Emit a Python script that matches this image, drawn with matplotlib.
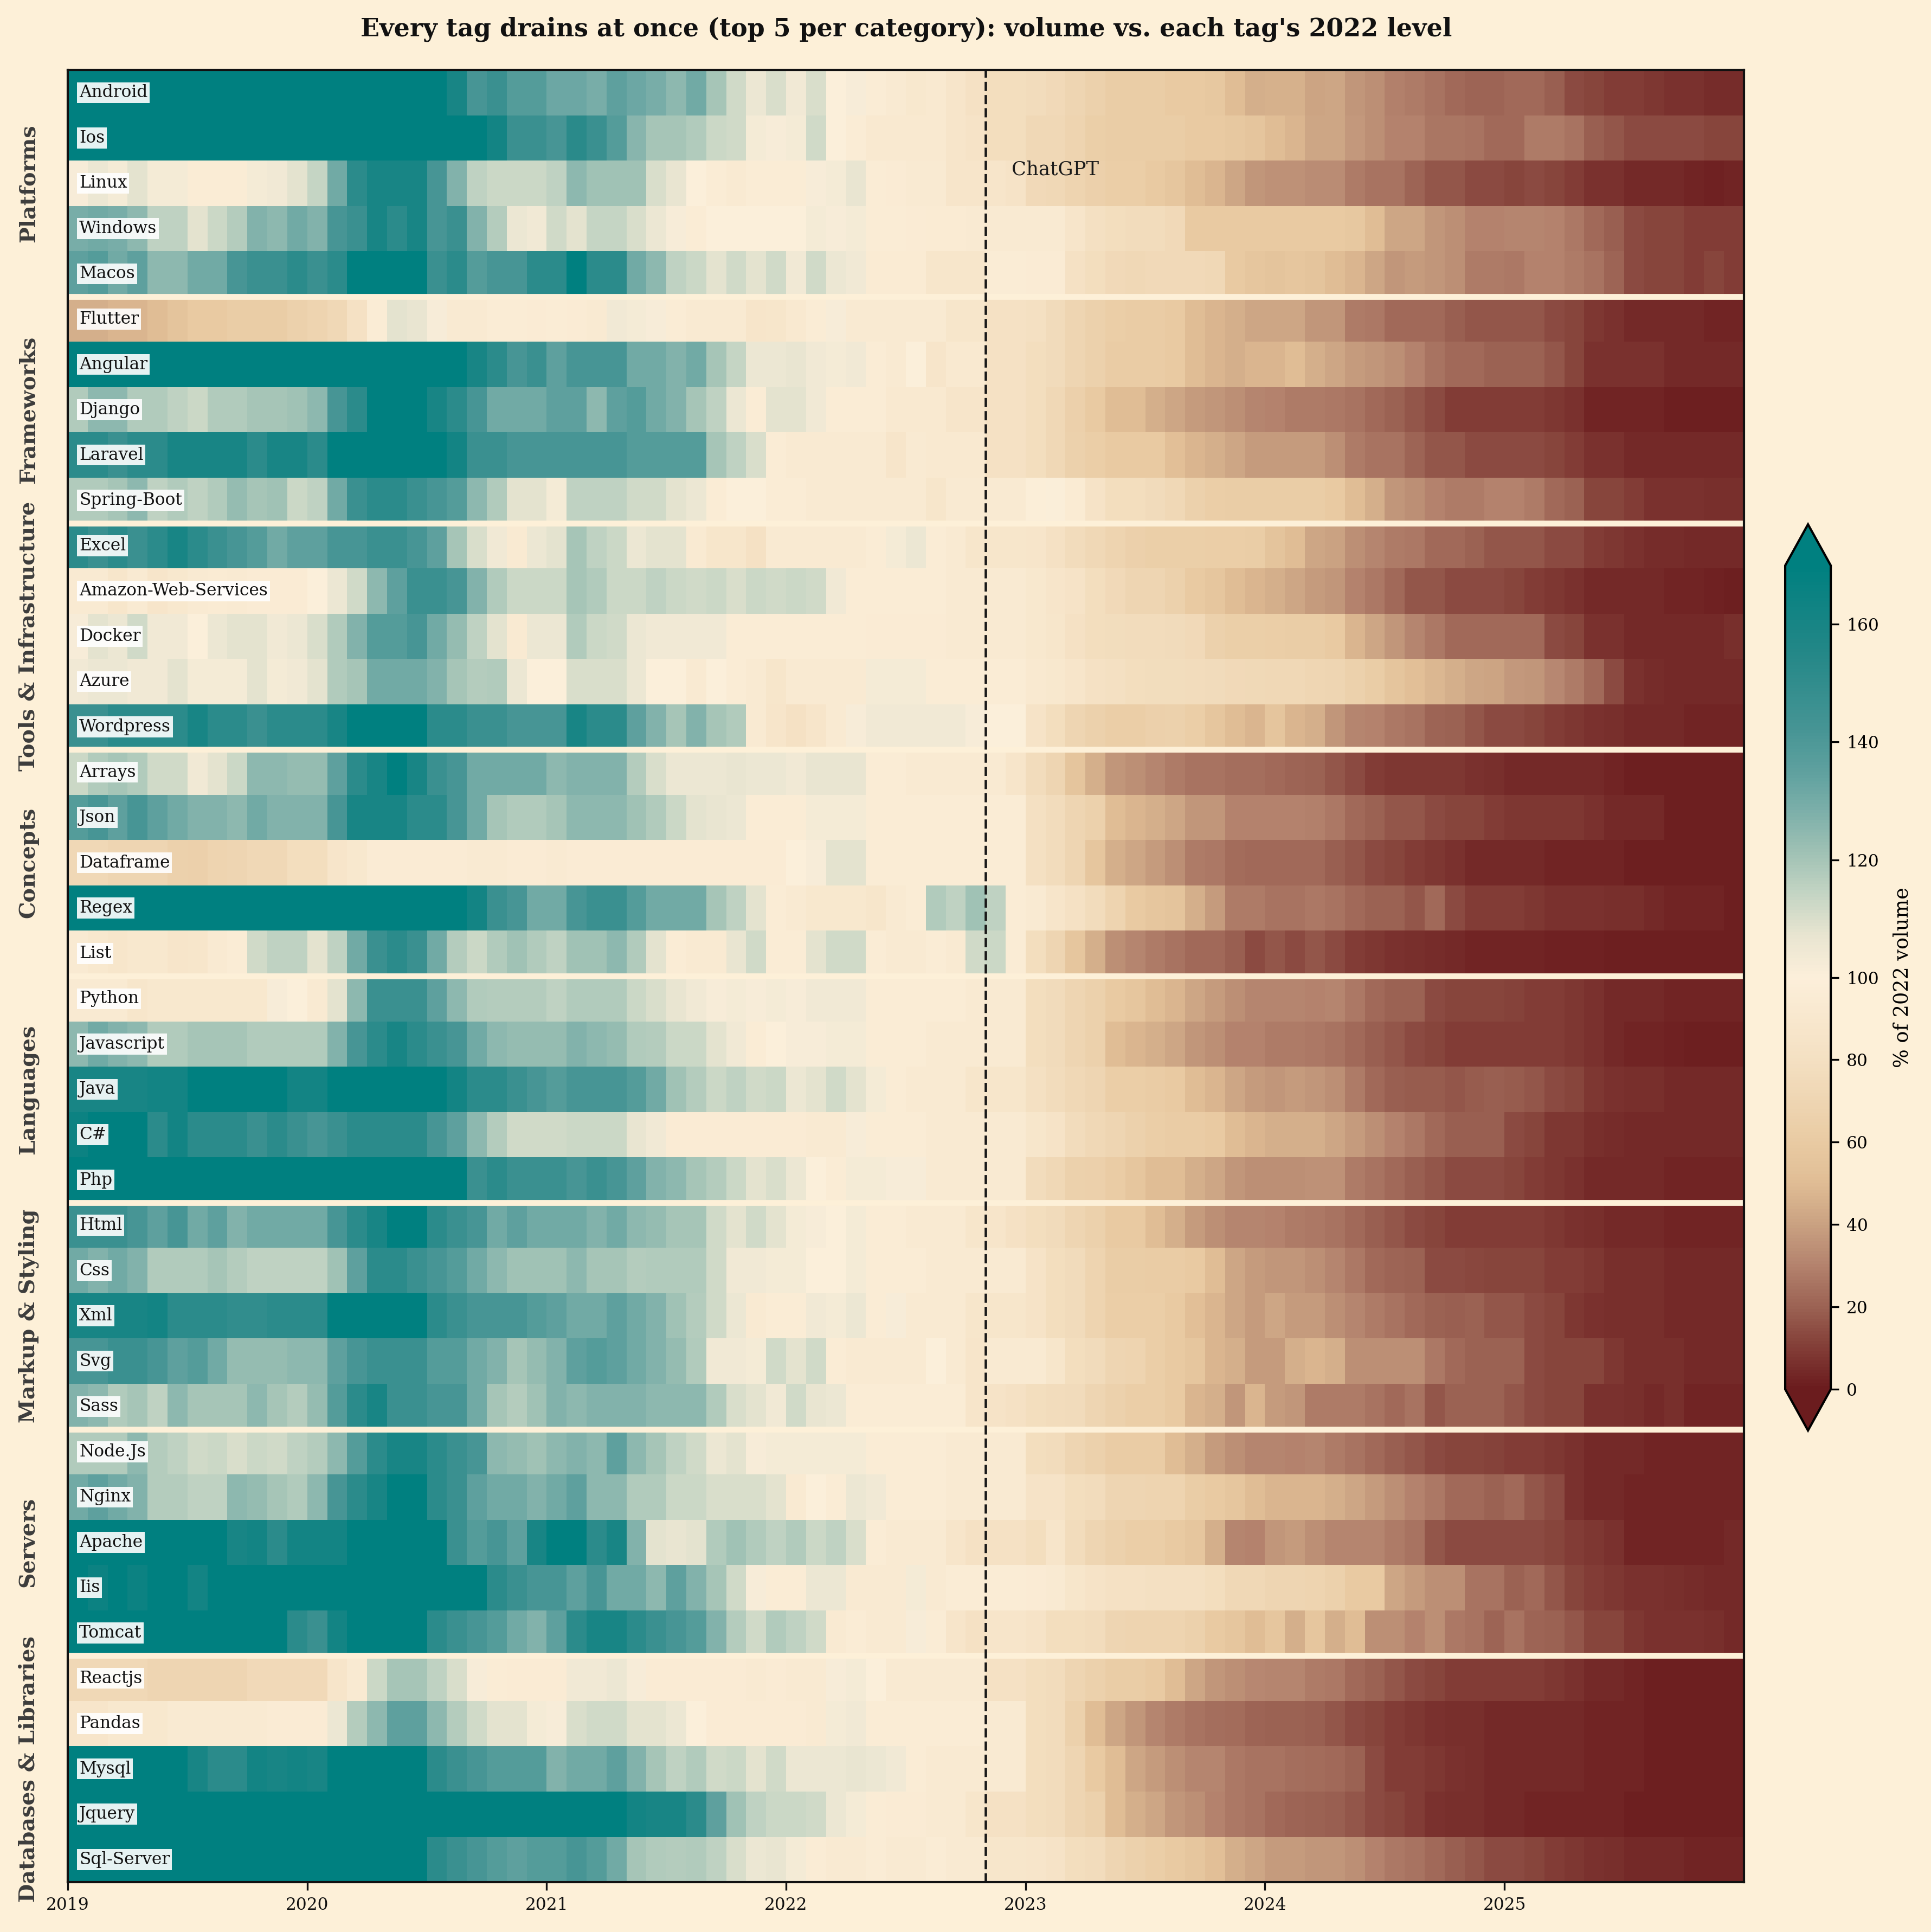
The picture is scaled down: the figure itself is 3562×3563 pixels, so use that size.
import matplotlib
matplotlib.use('Agg')
import matplotlib.pyplot as plt
import numpy as np
from matplotlib.colors import LinearSegmentedColormap, TwoSlopeNorm
from matplotlib import transforms

plt.rcParams['font.family'] = 'DejaVu Serif'

BG = '#fdf0d8'

# ========================
# DATA: % of each tag's 2022 volume, monthly Jan 2019 .. Dec 2025 (84 months)
# ========================
years = [2019, 2020, 2021, 2022, 2023, 2024, 2025]
chatgpt_month = 46  # Nov 2022

categories = ['Platforms', 'Frameworks', 'Tools & Infrastructure', 'Concepts',
              'Languages', 'Markup & Styling', 'Servers', 'Databases & Libraries']

platforms_tags = ['Android', 'Ios', 'Linux', 'Windows', 'Macos']
platforms_vals = [
    [180, 180, 180, 180, 180, 180, 180, 180, 180, 180, 180, 180, 180, 180, 180, 180, 180, 180, 180, 160, 142, 147, 138, 138, 132, 132, 129, 135, 132, 129, 125, 131, 120, 112, 106, 110, 104, 110, 100, 102, 96, 93, 90, 92, 86, 82, 78, 78,
     76, 74, 70, 66, 62, 62, 62, 60, 60, 58, 50, 45, 46, 46, 41, 42, 36, 34, 29, 28, 25, 22, 21, 21, 22, 22, 19, 14, 12, 10, 10, 8, 7, 7, 5, 5],
    [180, 180, 180, 180, 180, 180, 180, 180, 180, 180, 180, 180, 180, 180, 180, 180, 180, 180, 180, 180, 172, 162, 147, 147, 142, 153, 147, 138, 126, 120, 120, 118, 113, 112, 103, 102, 103, 112, 100, 96, 92, 92, 92, 92, 86, 84, 78, 78,
     72, 72, 68, 64, 62, 62, 62, 62, 60, 60, 58, 56, 50, 47, 42, 42, 37, 34, 30, 30, 26, 26, 25, 22, 22, 28, 28, 25, 19, 17, 14, 14, 14, 14, 12, 12],
    [102, 106, 103, 108, 103, 103, 96, 96, 96, 103, 104, 108, 114, 131, 152, 160, 160, 160, 142, 127, 115, 113, 113, 113, 115, 125, 121, 121, 121, 110, 107, 100, 96, 93, 96, 96, 96, 102, 103, 107, 96, 95, 93, 93, 86, 86, 86, 84,
     74, 72, 68, 65, 63, 63, 60, 57, 50, 47, 42, 36, 35, 35, 33, 33, 28, 25, 25, 21, 17, 17, 14, 14, 12, 14, 12, 10, 7, 7, 4, 4, 4, 3, 2, 3],
    [129, 131, 129, 125, 115, 115, 108, 113, 117, 127, 125, 131, 127, 142, 147, 160, 152, 160, 142, 147, 127, 117, 106, 104, 112, 108, 114, 114, 110, 106, 102, 96, 100, 100, 100, 100, 100, 103, 102, 103, 96, 96, 95, 94, 94, 93, 93, 93,
     93, 93, 86, 80, 78, 76, 76, 74, 60, 60, 60, 60, 60, 60, 60, 60, 58, 50, 42, 42, 36, 34, 30, 30, 31, 31, 30, 27, 22, 19, 14, 12, 12, 10, 10, 10],
    [135, 138, 131, 135, 125, 125, 131, 131, 142, 147, 147, 152, 147, 152, 180, 180, 180, 180, 147, 152, 138, 142, 142, 152, 152, 172, 152, 152, 131, 125, 115, 113, 108, 112, 108, 112, 104, 112, 106, 104, 94, 94, 94, 88, 88, 88, 96, 96,
     95, 95, 82, 78, 74, 72, 74, 74, 74, 72, 60, 57, 55, 57, 55, 50, 47, 42, 36, 38, 36, 34, 28, 28, 27, 30, 30, 28, 25, 21, 14, 12, 12, 10, 12, 10],
]

frameworks_tags = ['Flutter', 'Angular', 'Django', 'Laravel', 'Spring-Boot']
frameworks_vals = [
    [45, 45, 47, 47, 50, 55, 60, 60, 62, 62, 62, 66, 68, 72, 82, 96, 108, 107, 102, 93, 93, 96, 96, 95, 96, 95, 93, 104, 103, 102, 96, 93, 93, 93, 86, 88, 92, 96, 102, 93, 93, 93, 93, 93, 88, 88, 82, 82,
     80, 75, 70, 66, 63, 61, 61, 60, 50, 47, 45, 42, 42, 42, 36, 36, 28, 27, 22, 22, 22, 19, 17, 17, 17, 17, 14, 12, 8, 7, 4, 4, 4, 4, 3, 3],
    [180, 180, 180, 180, 180, 180, 180, 180, 180, 180, 180, 180, 180, 180, 180, 180, 180, 180, 180, 180, 160, 152, 142, 147, 135, 142, 142, 142, 131, 131, 127, 131, 120, 114, 106, 106, 107, 104, 103, 104, 96, 93, 100, 86, 92, 92, 82, 82,
     78, 75, 70, 66, 61, 61, 61, 60, 50, 47, 45, 47, 47, 50, 45, 42, 38, 36, 34, 30, 25, 22, 22, 20, 20, 20, 17, 12, 7, 7, 7, 7, 4, 4, 4, 4],
    [118, 125, 125, 118, 118, 115, 113, 118, 118, 120, 120, 121, 125, 142, 152, 172, 180, 180, 160, 152, 142, 131, 131, 131, 135, 135, 125, 135, 138, 131, 127, 120, 115, 106, 96, 108, 108, 104, 96, 96, 96, 92, 92, 92, 86, 86, 82, 82,
     78, 72, 65, 60, 50, 50, 45, 42, 38, 36, 34, 31, 30, 28, 28, 27, 25, 22, 20, 17, 14, 10, 10, 10, 10, 10, 8, 7, 3, 3, 3, 3, 1, 1, 1, 1],
    [152, 152, 147, 152, 152, 160, 160, 160, 160, 152, 160, 160, 152, 172, 180, 180, 180, 180, 180, 162, 147, 147, 142, 142, 142, 142, 142, 142, 138, 138, 138, 138, 120, 115, 110, 96, 93, 93, 93, 93, 93, 86, 93, 92, 92, 92, 82, 82,
     78, 72, 66, 63, 60, 60, 60, 52, 47, 45, 42, 38, 38, 38, 38, 34, 28, 25, 25, 21, 17, 17, 14, 14, 14, 14, 12, 10, 7, 7, 4, 4, 4, 4, 4, 4],
    [118, 118, 120, 125, 115, 118, 115, 118, 123, 120, 121, 113, 115, 131, 147, 152, 152, 147, 142, 138, 125, 118, 108, 108, 103, 115, 115, 115, 112, 112, 108, 106, 96, 100, 100, 96, 96, 93, 93, 93, 93, 93, 93, 88, 93, 93, 93, 93,
     98, 101, 94, 84, 78, 78, 75, 72, 66, 63, 62, 62, 62, 62, 62, 60, 50, 45, 36, 34, 30, 28, 28, 30, 30, 28, 22, 20, 12, 12, 10, 7, 7, 7, 6, 6],
]

tools_tags = ['Excel', 'Amazon-Web-Services', 'Docker', 'Azure', 'Wordpress']
tools_vals = [
    [152, 147, 152, 147, 152, 160, 152, 147, 142, 138, 131, 135, 135, 142, 142, 147, 147, 142, 135, 120, 110, 104, 93, 106, 108, 120, 115, 113, 106, 108, 108, 93, 88, 88, 82, 93, 93, 93, 93, 93, 96, 103, 106, 96, 93, 88, 88, 88,
     86, 82, 76, 72, 68, 65, 64, 64, 64, 63, 63, 62, 55, 50, 42, 40, 34, 31, 28, 27, 22, 22, 20, 17, 17, 17, 14, 14, 10, 8, 7, 5, 5, 4, 4, 4],
    [93, 93, 88, 93, 86, 90, 93, 94, 93, 95, 95, 95, 100, 106, 112, 125, 135, 147, 147, 142, 127, 118, 113, 113, 113, 120, 118, 113, 113, 115, 113, 112, 113, 110, 113, 112, 113, 112, 104, 96, 96, 96, 96, 96, 93, 93, 93, 93,
     90, 86, 84, 78, 74, 70, 70, 66, 60, 57, 50, 47, 45, 42, 38, 36, 30, 27, 22, 17, 17, 14, 14, 14, 12, 10, 8, 7, 4, 4, 4, 4, 3, 3, 2, 1],
    [102, 108, 106, 112, 104, 104, 100, 106, 108, 108, 104, 106, 110, 118, 127, 138, 138, 142, 131, 123, 115, 108, 93, 106, 106, 118, 113, 112, 106, 104, 104, 104, 104, 96, 96, 96, 96, 96, 96, 96, 95, 95, 95, 95, 93, 93, 93, 93,
     90, 88, 82, 78, 77, 76, 76, 75, 74, 66, 64, 64, 63, 62, 62, 60, 47, 42, 36, 31, 27, 22, 22, 22, 22, 22, 14, 12, 7, 7, 4, 4, 4, 4, 4, 6],
    [104, 106, 106, 104, 104, 108, 103, 103, 103, 108, 103, 104, 108, 118, 120, 131, 131, 131, 127, 120, 117, 118, 106, 100, 100, 110, 110, 110, 106, 100, 100, 93, 100, 96, 93, 88, 93, 93, 93, 93, 103, 103, 103, 96, 96, 96, 96, 96,
     92, 90, 86, 82, 80, 78, 77, 77, 76, 75, 74, 73, 72, 72, 71, 70, 66, 62, 56, 52, 48, 45, 42, 41, 37, 36, 32, 28, 22, 14, 7, 5, 4, 4, 4, 4],
    [147, 147, 152, 152, 152, 152, 160, 152, 152, 147, 152, 152, 152, 160, 172, 180, 180, 180, 152, 152, 147, 147, 142, 142, 142, 160, 152, 152, 135, 127, 120, 127, 120, 118, 93, 86, 82, 86, 93, 102, 104, 104, 104, 104, 104, 102, 100, 100,
     84, 78, 70, 66, 63, 63, 65, 66, 63, 57, 50, 47, 56, 47, 45, 36, 31, 30, 27, 25, 21, 20, 17, 14, 14, 12, 10, 8, 7, 6, 4, 4, 4, 3, 3, 3],
]

concepts_tags = ['Arrays', 'Json', 'Dataframe', 'Regex', 'List']
concepts_vals = [
    [113, 118, 120, 118, 112, 112, 104, 108, 113, 125, 125, 123, 123, 135, 152, 160, 172, 160, 147, 142, 131, 131, 131, 131, 125, 127, 127, 127, 117, 110, 106, 106, 106, 107, 106, 106, 104, 107, 107, 107, 96, 96, 93, 93, 93, 93, 93, 86,
     76, 70, 56, 45, 36, 34, 31, 28, 25, 25, 24, 24, 22, 21, 20, 17, 14, 10, 8, 8, 8, 8, 7, 6, 4, 4, 4, 4, 4, 3, 1, 1, 1, 1, 1, 1],
    [138, 142, 135, 142, 135, 131, 127, 127, 125, 131, 127, 127, 127, 142, 160, 160, 160, 152, 152, 142, 131, 120, 118, 118, 120, 125, 125, 125, 121, 118, 113, 108, 107, 106, 96, 96, 96, 103, 103, 103, 96, 96, 96, 96, 96, 96, 96, 96,
     80, 76, 70, 66, 50, 47, 45, 42, 36, 36, 30, 30, 30, 30, 29, 27, 22, 20, 17, 17, 14, 12, 12, 10, 8, 8, 8, 8, 7, 4, 4, 4, 1, 1, 1, 1],
    [72, 72, 70, 70, 70, 66, 65, 68, 70, 72, 72, 78, 78, 86, 90, 95, 95, 95, 95, 95, 93, 93, 95, 95, 93, 95, 95, 95, 95, 95, 95, 95, 95, 95, 95, 95, 100, 102, 108, 108, 96, 96, 96, 96, 96, 96, 96, 96,
     80, 76, 70, 57, 45, 42, 38, 34, 28, 27, 23, 22, 22, 22, 22, 19, 17, 14, 12, 10, 8, 7, 4, 4, 4, 4, 3, 3, 3, 3, 1, 1, 1, 1, 1, 1],
    [180, 180, 180, 180, 180, 180, 180, 180, 180, 180, 180, 180, 180, 180, 180, 180, 180, 180, 180, 180, 162, 147, 142, 131, 131, 142, 147, 147, 138, 131, 131, 131, 120, 115, 108, 96, 93, 90, 90, 90, 88, 93, 96, 118, 115, 121, 115, 96,
     93, 86, 82, 76, 68, 60, 57, 55, 45, 38, 28, 28, 25, 25, 27, 25, 22, 20, 20, 17, 22, 14, 10, 10, 10, 8, 7, 7, 7, 6, 6, 4, 3, 3, 3, 1],
    [93, 90, 88, 90, 90, 86, 88, 93, 96, 112, 115, 115, 108, 115, 131, 147, 152, 147, 131, 117, 113, 118, 121, 118, 115, 121, 121, 125, 118, 108, 96, 93, 93, 107, 112, 96, 96, 108, 112, 112, 96, 93, 93, 96, 93, 112, 113, 96,
     78, 70, 57, 45, 34, 31, 28, 25, 22, 22, 19, 14, 17, 14, 17, 14, 10, 8, 7, 6, 5, 4, 3, 3, 3, 3, 2, 2, 2, 1, 1, 1, 1, 1, 1, 1],
]

languages_tags = ['Python', 'Javascript', 'Java', 'C#', 'Php']
languages_vals = [
    [93, 93, 93, 88, 90, 90, 90, 90, 90, 90, 102, 100, 93, 108, 125, 147, 147, 147, 135, 125, 118, 117, 117, 117, 115, 118, 118, 118, 113, 110, 107, 104, 102, 103, 102, 103, 102, 104, 104, 104, 96, 96, 96, 96, 96, 93, 93, 93,
     78, 75, 70, 66, 60, 57, 50, 47, 42, 38, 34, 31, 31, 31, 30, 31, 27, 22, 20, 20, 14, 12, 12, 12, 11, 10, 10, 8, 7, 4, 4, 4, 3, 3, 3, 3],
    [125, 131, 127, 125, 118, 118, 120, 120, 120, 118, 118, 118, 118, 127, 142, 152, 160, 152, 147, 142, 131, 125, 123, 123, 123, 127, 125, 123, 118, 117, 113, 113, 108, 104, 96, 100, 102, 102, 103, 103, 96, 96, 96, 93, 93, 93, 93, 93,
     78, 75, 70, 66, 50, 47, 45, 42, 36, 34, 30, 30, 28, 28, 27, 25, 22, 19, 17, 14, 12, 10, 10, 10, 10, 10, 10, 8, 7, 4, 3, 3, 2, 1, 1, 1],
    [160, 160, 160, 160, 162, 162, 172, 172, 172, 172, 172, 162, 162, 180, 180, 180, 180, 180, 180, 162, 152, 152, 147, 142, 138, 142, 142, 142, 138, 131, 121, 117, 113, 115, 112, 113, 106, 108, 112, 108, 103, 96, 93, 93, 93, 88, 88, 88,
     80, 76, 72, 70, 63, 63, 61, 60, 50, 47, 42, 38, 36, 38, 36, 34, 28, 22, 19, 18, 18, 17, 18, 19, 18, 17, 14, 12, 8, 7, 6, 6, 4, 4, 4, 4],
    [165, 172, 172, 172, 152, 162, 152, 152, 152, 147, 152, 147, 142, 147, 152, 152, 152, 152, 142, 135, 125, 117, 112, 112, 112, 113, 113, 113, 107, 104, 95, 95, 95, 95, 95, 95, 95, 93, 93, 102, 96, 96, 96, 93, 93, 93, 93, 93,
     88, 84, 76, 72, 70, 66, 63, 61, 61, 60, 50, 47, 45, 45, 45, 42, 38, 34, 30, 27, 22, 19, 19, 19, 14, 12, 8, 8, 6, 5, 4, 4, 4, 4, 4, 4],
    [180, 180, 180, 180, 180, 180, 180, 180, 180, 180, 180, 180, 180, 180, 180, 180, 180, 180, 180, 180, 147, 152, 147, 147, 147, 142, 147, 142, 135, 127, 125, 120, 117, 113, 108, 110, 106, 100, 96, 103, 103, 102, 102, 93, 93, 93, 93, 93,
     76, 72, 66, 65, 61, 57, 50, 50, 45, 42, 36, 34, 34, 34, 35, 35, 28, 25, 22, 19, 17, 14, 14, 14, 12, 10, 8, 7, 4, 4, 4, 4, 3, 3, 3, 3],
]

markup_tags = ['Html', 'Css', 'Xml', 'Svg', 'Sass']
markup_vals = [
    [147, 147, 147, 142, 135, 142, 131, 135, 127, 131, 131, 131, 131, 142, 152, 160, 172, 180, 152, 147, 142, 131, 135, 131, 131, 131, 127, 131, 125, 123, 120, 120, 112, 108, 112, 108, 103, 102, 100, 103, 96, 96, 93, 93, 93, 88, 86, 82,
     78, 75, 70, 66, 60, 60, 50, 45, 38, 34, 31, 31, 30, 28, 27, 25, 22, 19, 17, 14, 12, 10, 10, 10, 10, 10, 8, 7, 6, 4, 4, 4, 3, 3, 3, 3],
    [131, 127, 131, 127, 118, 118, 118, 120, 117, 115, 115, 115, 115, 121, 135, 152, 152, 147, 142, 138, 131, 125, 121, 121, 121, 125, 120, 120, 117, 118, 118, 118, 112, 104, 104, 103, 103, 100, 100, 103, 96, 96, 96, 93, 93, 93, 93, 93,
     84, 78, 75, 68, 62, 62, 61, 61, 60, 50, 42, 38, 36, 36, 34, 31, 27, 22, 21, 20, 14, 14, 13, 12, 12, 12, 10, 10, 8, 6, 6, 6, 4, 4, 4, 4],
    [160, 160, 160, 160, 162, 152, 152, 152, 150, 150, 152, 152, 152, 172, 180, 180, 180, 180, 152, 147, 142, 142, 142, 138, 135, 131, 131, 135, 131, 127, 121, 117, 112, 106, 93, 96, 96, 104, 103, 106, 96, 102, 93, 93, 93, 88, 88, 88,
     84, 78, 75, 68, 63, 63, 63, 60, 52, 47, 42, 38, 42, 38, 38, 34, 31, 28, 25, 22, 20, 19, 20, 17, 17, 14, 12, 8, 7, 6, 6, 6, 4, 4, 4, 4],
    [142, 142, 147, 147, 142, 135, 138, 131, 123, 123, 123, 125, 125, 135, 142, 147, 147, 147, 138, 138, 131, 127, 120, 123, 127, 135, 138, 135, 131, 127, 123, 118, 104, 104, 103, 112, 108, 112, 96, 93, 93, 93, 93, 100, 93, 86, 93, 93,
     93, 88, 78, 75, 70, 68, 63, 60, 57, 47, 45, 38, 38, 45, 47, 45, 34, 34, 34, 34, 27, 22, 20, 20, 20, 14, 12, 12, 12, 8, 6, 6, 6, 4, 4, 4],
    [127, 125, 118, 120, 115, 125, 120, 120, 120, 125, 120, 117, 123, 138, 152, 160, 147, 147, 142, 142, 131, 120, 117, 121, 127, 125, 127, 127, 127, 125, 125, 125, 118, 110, 108, 104, 112, 107, 106, 96, 96, 96, 96, 96, 96, 86, 84, 82,
     78, 76, 75, 70, 66, 63, 63, 60, 47, 45, 36, 47, 38, 36, 28, 28, 28, 25, 22, 25, 17, 20, 20, 20, 17, 14, 12, 12, 7, 7, 6, 4, 6, 3, 3, 3],
]

servers_tags = ['Node.Js', 'Nginx', 'Apache', 'Iis', 'Tomcat']
servers_vals = [
    [118, 118, 118, 125, 117, 115, 112, 113, 110, 113, 112, 115, 117, 125, 138, 152, 160, 160, 152, 147, 142, 125, 123, 121, 125, 127, 125, 135, 125, 120, 115, 112, 106, 108, 102, 103, 103, 103, 103, 103, 96, 96, 96, 96, 93, 93, 93, 93,
     78, 76, 70, 66, 61, 61, 61, 50, 45, 38, 34, 31, 31, 30, 31, 28, 25, 22, 19, 17, 14, 12, 12, 11, 10, 10, 8, 7, 4, 4, 4, 3, 3, 3, 3, 3],
    [131, 135, 131, 127, 117, 117, 115, 115, 125, 123, 120, 118, 125, 142, 152, 160, 180, 180, 152, 147, 135, 131, 131, 127, 131, 135, 125, 125, 118, 118, 113, 113, 110, 110, 110, 108, 93, 100, 96, 106, 104, 96, 96, 96, 93, 93, 93, 93,
     84, 84, 78, 76, 70, 70, 68, 68, 62, 60, 57, 50, 47, 47, 47, 45, 42, 38, 34, 30, 27, 22, 22, 20, 22, 17, 14, 7, 4, 4, 3, 3, 3, 3, 3, 3],
    [180, 180, 180, 180, 180, 180, 180, 180, 160, 162, 152, 162, 162, 162, 180, 180, 180, 180, 180, 147, 138, 142, 135, 160, 172, 172, 152, 160, 127, 108, 107, 108, 118, 121, 118, 115, 118, 113, 115, 110, 96, 93, 93, 93, 86, 82, 82, 82,
     78, 86, 76, 70, 66, 63, 63, 60, 57, 45, 31, 30, 36, 38, 34, 31, 31, 31, 28, 25, 17, 14, 14, 14, 14, 14, 12, 10, 8, 7, 3, 3, 3, 3, 3, 4],
    [172, 165, 172, 165, 172, 172, 162, 172, 180, 180, 180, 180, 180, 180, 180, 180, 180, 180, 180, 180, 180, 152, 147, 142, 142, 135, 142, 131, 131, 125, 135, 127, 120, 112, 102, 96, 96, 106, 106, 93, 93, 93, 103, 93, 96, 96, 96, 96,
     95, 93, 88, 84, 82, 82, 80, 80, 80, 78, 72, 72, 70, 70, 68, 66, 60, 60, 42, 38, 34, 34, 25, 25, 20, 22, 17, 12, 10, 8, 7, 7, 6, 5, 4, 4],
    [180, 180, 180, 180, 180, 180, 180, 180, 180, 180, 180, 152, 147, 162, 180, 180, 180, 180, 152, 147, 142, 138, 131, 127, 135, 152, 160, 160, 152, 147, 142, 138, 127, 117, 112, 118, 115, 112, 93, 96, 93, 93, 102, 96, 86, 82, 86, 86,
     84, 78, 78, 76, 70, 68, 68, 68, 66, 60, 57, 50, 57, 45, 57, 45, 50, 34, 34, 30, 34, 27, 25, 21, 25, 21, 20, 17, 12, 12, 8, 7, 7, 7, 6, 4],
]

databases_tags = ['Reactjs', 'Pandas', 'Mysql', 'Jquery', 'Sql-Server']
databases_vals = [
    [72, 72, 72, 72, 70, 70, 70, 70, 70, 74, 74, 74, 74, 86, 93, 113, 120, 120, 115, 110, 102, 96, 95, 95, 95, 104, 104, 106, 102, 95, 95, 95, 95, 95, 93, 95, 93, 93, 102, 103, 100, 93, 93, 93, 93, 93, 82, 82,
     78, 76, 70, 66, 62, 62, 60, 50, 42, 36, 34, 32, 31, 31, 28, 27, 22, 20, 17, 14, 12, 10, 10, 10, 10, 10, 8, 7, 4, 4, 3, 1, 1, 1, 1, 1],
    [86, 86, 90, 90, 90, 93, 93, 93, 93, 93, 95, 95, 95, 106, 117, 125, 135, 135, 125, 117, 112, 108, 108, 103, 102, 110, 112, 112, 108, 108, 106, 100, 95, 95, 95, 95, 95, 93, 103, 104, 96, 96, 96, 96, 96, 96, 93, 93,
     78, 76, 66, 50, 42, 36, 31, 28, 25, 24, 23, 21, 20, 20, 19, 17, 14, 12, 10, 8, 7, 6, 6, 4, 4, 4, 4, 4, 3, 3, 3, 1, 1, 1, 1, 1],
    [180, 180, 180, 180, 180, 180, 160, 152, 152, 162, 160, 162, 160, 180, 180, 180, 180, 180, 152, 147, 142, 138, 138, 138, 127, 131, 131, 135, 127, 120, 115, 118, 112, 113, 108, 112, 106, 106, 106, 107, 106, 104, 96, 93, 93, 93, 93, 93,
     78, 76, 70, 60, 50, 42, 38, 34, 31, 31, 27, 25, 25, 24, 23, 22, 20, 14, 10, 10, 8, 7, 6, 4, 4, 4, 4, 4, 3, 3, 3, 1, 1, 1, 1, 1],
    [180, 180, 180, 180, 180, 180, 180, 180, 180, 180, 180, 180, 180, 180, 180, 180, 180, 180, 180, 180, 180, 180, 180, 180, 180, 180, 180, 180, 162, 160, 160, 152, 135, 121, 115, 113, 113, 112, 106, 103, 96, 95, 95, 93, 93, 88, 82, 82,
     78, 76, 70, 66, 50, 45, 42, 36, 34, 30, 27, 25, 22, 21, 20, 19, 17, 14, 12, 10, 7, 6, 6, 4, 4, 3, 3, 3, 3, 3, 1, 1, 1, 1, 1, 1],
    [180, 180, 180, 180, 180, 180, 180, 180, 180, 180, 180, 180, 180, 180, 180, 180, 180, 180, 152, 147, 142, 138, 135, 138, 138, 142, 138, 131, 120, 118, 117, 118, 115, 110, 106, 107, 103, 96, 93, 93, 96, 93, 93, 96, 93, 93, 88, 88,
     86, 84, 78, 76, 70, 66, 63, 60, 57, 52, 45, 42, 38, 38, 36, 36, 34, 30, 27, 25, 22, 19, 17, 14, 14, 12, 10, 8, 7, 6, 4, 4, 4, 3, 3, 3],
]

group_tags = [platforms_tags, frameworks_tags, tools_tags, concepts_tags,
              languages_tags, markup_tags, servers_tags, databases_tags]
group_vals = [platforms_vals, frameworks_vals, tools_vals, concepts_vals,
              languages_vals, markup_vals, servers_vals, databases_vals]

tags = [t for g in group_tags for t in g]
data = np.array([row for g in group_vals for row in g], dtype=float)
n_rows, n_months = data.shape

# ========================
# COLORMAP: brown -> cream (100 %) -> teal
# ========================
norm = TwoSlopeNorm(vmin=0, vcenter=100, vmax=170)
cmap_nodes = [(0, '#6b1c1e'), (10, '#833e37'), (20, '#9c6354'), (30, '#b4836e'),
              (40, '#caa282'), (50, '#e0bd95'), (60, '#e9cba3'), (80, '#f4e0c2'),
              (100, '#fcefda'), (107, '#e9e5d1'), (114, '#c5d5c4'), (121, '#a1c2b5'),
              (128, '#7eb0aa'), (135, '#5fa19f'), (142, '#479595'), (156, '#228787'),
              (170, '#008080')]
cmap = LinearSegmentedColormap.from_list(
    'drain', [(float(norm(v)), c) for v, c in cmap_nodes])

# ========================
# FIGURE
# ========================
fig = plt.figure(figsize=(3562 / 300, 3563 / 300), dpi=300, facecolor=BG)
ax = fig.add_axes([0.0351, 0.0258, 0.868, 0.938])
ax.set_facecolor(BG)

mesh = ax.pcolormesh(np.arange(n_months + 1), np.arange(n_rows + 1), data,
                     cmap=cmap, norm=norm, shading='flat')
ax.set_xlim(0, n_months)
ax.set_ylim(n_rows, 0)

# category separators
for k in range(1, len(categories)):
    ax.axhline(5 * k, color=BG, lw=2.6)

# ChatGPT marker
ax.axvline(chatgpt_month, color='#1a1a1a', lw=1.1, ls='--')
ax.text(chatgpt_month + 1.3, 2.2, 'ChatGPT', fontsize=8.5, ha='left', va='center',
        color='#1a1a1a')

# tag labels inside rows
for i, t in enumerate(tags):
    ax.text(0.57, i + 0.5, t, fontsize=7.5, ha='left', va='center', color='#111111',
            bbox=dict(boxstyle='square,pad=0.12', fc='white', ec='none', alpha=0.9))

# category labels on the left
trans = transforms.blended_transform_factory(ax.transAxes, ax.transData)
for k, cat in enumerate(categories):
    ax.text(-0.0235, 5 * k + 2.5, cat, transform=trans, rotation=90,
            ha='center', va='center', fontsize=9.5, fontweight='bold', color='#3c3c3c')

ax.set_xticks(np.arange(0, n_months, 12))
ax.set_xticklabels([str(y) for y in years])
ax.set_yticks([])
ax.tick_params(axis='x', labelsize=7.5, length=3.5, width=0.8, pad=3, colors='#111111')
for s in ax.spines.values():
    s.set_linewidth(1.0)
    s.set_color('#111111')

# colorbar
cax = fig.add_axes([0.9245, 0.2596, 0.0236, 0.469])
cbar = fig.colorbar(mesh, cax=cax, extend='both', ticks=[0, 20, 40, 60, 80, 100, 120, 140, 160])
cbar.ax.tick_params(labelsize=7.5, length=3.5, width=0.8)
cbar.outline.set_linewidth(1.0)
cbar.set_label('% of 2022 volume', fontsize=8.8, labelpad=6)

fig.text(0.4694, 0.9848,
         "Every tag drains at once (top 5 per category): volume vs. each tag's 2022 level",
         ha='center', va='center', fontsize=11, fontweight='bold', color='#111111')

fig.savefig('out.png', dpi=300, facecolor=BG)
